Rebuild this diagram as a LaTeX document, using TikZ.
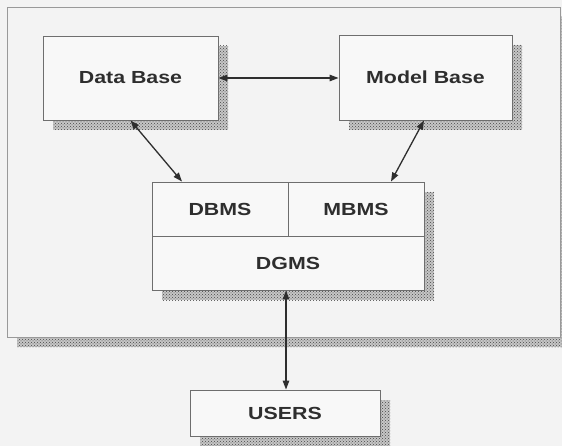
\documentclass[tikz,border=0pt]{standalone}
\usepackage{fontspec}
\newfontfamily\boxfont[FakeStretch=1.22]{Liberation Sans}
\usetikzlibrary{patterns,shadows,arrows.meta}

\begin{document}
\begin{tikzpicture}[x=1pt,y=-1pt,>={Triangle[length=9pt,width=6.5pt]}]
\definecolor{bgcolor}{HTML}{F3F3F3}
\definecolor{boxcolor}{HTML}{F8F8F8}
\definecolor{linecolor}{HTML}{6E6E6E}
\definecolor{textcolor}{HTML}{2E2E2E}
\tikzset{
  hatch/.style={fill=gray!45, postaction={pattern=crosshatch dots, pattern color=gray!55!black}},
  box/.style={draw=linecolor, fill=boxcolor, rectangle, inner sep=0pt, line width=0.9pt,
    font=\boxfont\bfseries\fontsize{17.5}{19}\selectfont, text=textcolor},
  shadowed/.style={box, general shadow={hatch, draw=none, shadow xshift=10pt, shadow yshift=-10pt}},
  link/.style={<->, draw=textcolor, line width=1.3pt},
}
\useasboundingbox[fill=bgcolor] (0,0) rectangle (562,446);

% outer frame
\node[shadowed, fill=bgcolor, draw=linecolor!70, minimum width=553, minimum height=330] (frame) at (283.5,172) {};

% the two bases
\node[shadowed, minimum width=175, minimum height=84] (db) at (130.5,78) {Data Base};
\node[shadowed, minimum width=173, minimum height=85] (mb) at (425.5,77.5) {Model Base};

% management systems block
\node[shadowed, minimum width=272, minimum height=108] (core) at (288,236) {};
\node[box, minimum width=136, minimum height=54] (dbms) at (220,209) {DBMS};
\node[box, minimum width=136, minimum height=54] (mbms) at (356,209) {MBMS};
\node[box, minimum width=272, minimum height=54] (dgms) at (288,263) {DGMS};

\node[shadowed, minimum width=190, minimum height=46] (users) at (285,413) {USERS};

\draw[link] (db.east) -- (db.east -| mb.west);
\draw[link] (db.south) -- ([xshift=-38pt]dbms.north);
\draw[link] ([xshift=-1.5pt]mb.south) -- ([xshift=35pt]mbms.north);
\draw[link] ([xshift=-2pt]dgms.south) -- ([xshift=-2pt]dgms.south |- users.north);
\end{tikzpicture}
\end{document}
